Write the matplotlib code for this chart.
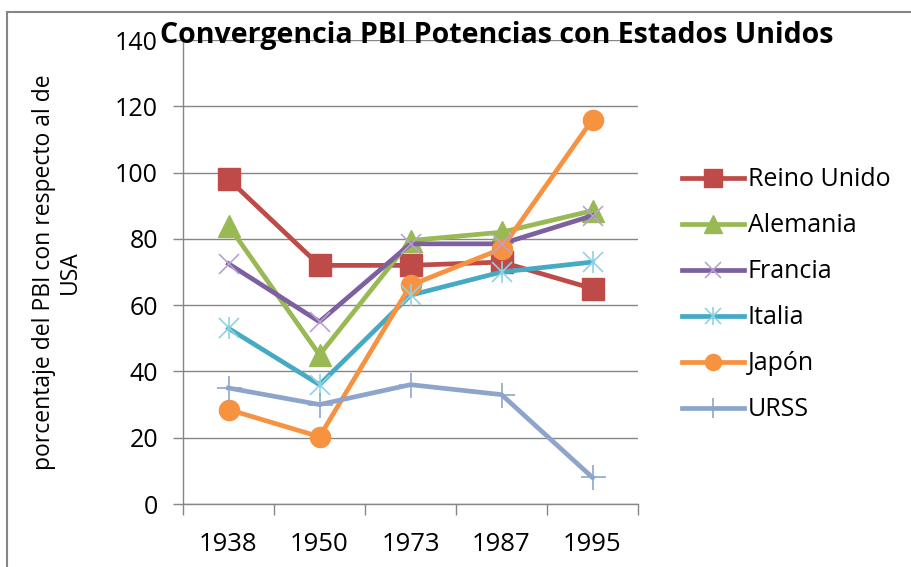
import matplotlib
matplotlib.use("Agg")
import matplotlib.pyplot as plt
from matplotlib.patches import Rectangle

plt.rcParams["font.family"] = ["Open Sans", "DejaVu Sans"]

YEARS = ["1938", "1950", "1973", "1987", "1995"]
REINO_UNIDO = [98, 72, 72, 73, 65]
ALEMANIA = [84, 45, 79.5, 82, 88.5]
FRANCIA = [72.5, 55, 78.5, 78.5, 87]
ITALIA = [53, 36, 63, 70, 73]
JAPON = [28.5, 20.3, 66, 77, 116]
URSS = [35, 30, 36, 33, 8]

GRAY = "#868686"

fig = plt.figure(figsize=(9.11, 5.67), dpi=100)
ax = fig.add_axes([183 / 911, 1 - 504 / 567, (638 - 183) / 911, (504 - 40) / 567])

x = [i + 0.5 for i in range(len(YEARS))]
lw = 3.4

h_ru, = ax.plot(x, REINO_UNIDO, color="#BE4B48", lw=lw, marker="s", ms=15.5, zorder=3)
h_al, = ax.plot(x, ALEMANIA, color="#98B954", lw=lw, marker="^", ms=15.5, zorder=3)
h_fr, = ax.plot(x, FRANCIA, color="#7D60A0", lw=lw, zorder=3)
m_fr, = ax.plot(x, FRANCIA, ls="none", marker="x", ms=14, mew=1.2, color="#B7A2D0", zorder=4)
h_it, = ax.plot(x, ITALIA, color="#46AAC5", lw=lw, zorder=3)
m_it1, = ax.plot(x, ITALIA, ls="none", marker="x", ms=14, mew=1.2, color="#8FD2E3", zorder=4)
m_it2, = ax.plot(x, ITALIA, ls="none", marker="|", ms=16, mew=1.2, color="#8FD2E3", zorder=4)
h_ja, = ax.plot(x, JAPON, color="#F69240", lw=lw, marker="o", ms=14.5, zorder=3)
h_ur, = ax.plot(x, URSS, color="#8EA5CB", lw=lw, zorder=3)
m_ur, = ax.plot(x, URSS, ls="none", marker="+", ms=18, mew=1.2, color="#8EA5CB", zorder=4)

ax.set_xlim(0, 5)
ax.set_ylim(0, 140)
ax.set_yticks(range(0, 141, 20))
ax.set_xticks(x)
ax.set_xticklabels(YEARS)
ax.set_xticks(range(0, 6), minor=True)
ax.tick_params(axis="x", which="major", length=0, pad=20, labelsize=18.5)
ax.tick_params(axis="x", which="minor", length=8, color=GRAY, width=1, direction="out")
ax.tick_params(axis="y", length=7, color=GRAY, width=1, direction="out", labelsize=18, pad=11)
ax.grid(axis="y", color=GRAY, lw=1)
ax.set_axisbelow(True)
for s in ["top", "right"]:
    ax.spines[s].set_visible(False)
for s in ["left", "bottom"]:
    ax.spines[s].set_color(GRAY)
    ax.spines[s].set_linewidth(1)

fig.text(497 / 911, 1 - 36 / 567, "Convergencia PBI Potencias con Estados Unidos",
         ha="center", va="center", fontsize=20.5, fontweight="bold")
fig.text(57 / 911, 1 - 272 / 567, "porcentaje del PBI con respecto al de\nUSA",
         ha="center", va="center", rotation=90, fontsize=16.5, linespacing=1.15)

handles = [h_ru, h_al, (h_fr, m_fr), (h_it, m_it1, m_it2), h_ja, (h_ur, m_ur)]
labels = ["Reino Unido", "Alemania", "Francia", "Italia", "Japón", "URSS"]
leg = fig.legend(handles, labels, loc="upper left", bbox_to_anchor=(659 / 911, 1 - 145 / 567),
                 frameon=False, fontsize=18, handlelength=2.5, handletextpad=0.15,
                 labelspacing=0.84, markerscale=0.8)

fig.patches.append(Rectangle((7 / 911, -0.05), 1.0, 1 - 12 / 567 + 0.05, transform=fig.transFigure,
                             fill=False, edgecolor=GRAY, lw=1.5, clip_on=False))

fig.savefig("out.png", dpi=100)
